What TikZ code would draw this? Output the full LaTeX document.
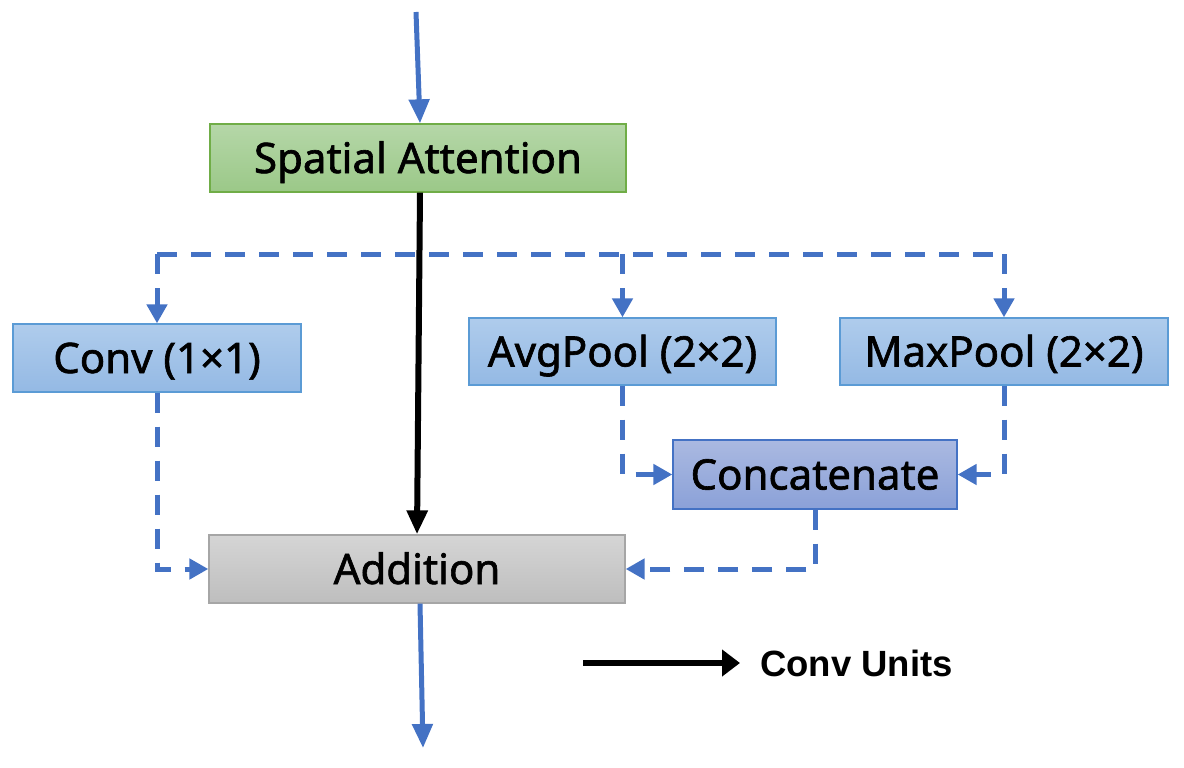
\documentclass[tikz,border=0pt]{standalone}
\usepackage{fontspec}
\setmainfont{Noto Sans}[FakeBold=1.5]
\newfontfamily\lgfont{Liberation Sans}
\usetikzlibrary{arrows.meta}
\definecolor{lineblue}{HTML}{4472C4}
\definecolor{gtop}{HTML}{B5D7A8}
\definecolor{gbot}{HTML}{9BC888}
\definecolor{gbrd}{HTML}{70AD47}
\definecolor{btop}{HTML}{AFCCEC}
\definecolor{bbot}{HTML}{94B9E4}
\definecolor{bbrd}{HTML}{5B9BD5}
\definecolor{ctop}{HTML}{AAB9E1}
\definecolor{cbot}{HTML}{8BA1D8}
\definecolor{cbrd}{HTML}{4472C4}
\definecolor{atop}{HTML}{D5D5D5}
\definecolor{abot}{HTML}{BEBEBE}
\definecolor{abrd}{HTML}{A6A6A6}
\tikzset{
  box/.style={inner sep=0pt, line width=1.3pt, text height=30pt, text depth=0pt,
    font=\fontsize{42}{50}\selectfont, align=center},
  greenbox/.style={box, draw=gbrd, top color=gtop, bottom color=gbot},
  bluebox/.style={box, draw=bbrd, top color=btop, bottom color=bbot},
  catbox/.style={box, draw=cbrd, top color=ctop, bottom color=cbot},
  graybox/.style={box, draw=abrd, top color=atop, bottom color=abot},
  flow/.style={draw=lineblue, line width=5pt, -{Triangle[length=24pt,width=20pt]}},
  dsh/.style={draw=lineblue, line width=5pt, dash pattern=on 20pt off 14pt},
  dsharr/.style={dsh, -{Triangle[length=19pt,width=20pt]}},
  convline/.style={draw=black, line width=6pt, -{Triangle[length=24pt,width=20pt]}},
}
\begin{document}
\begin{tikzpicture}[x=1pt,y=-1pt]
\useasboundingbox (0,0) rectangle (1184,768);
\node[greenbox, minimum width=416pt, minimum height=68pt] (sa) at (418,158) {Spatial Attention};
\node[bluebox, minimum width=288pt, minimum height=68pt] (conv) at (157,358) {Conv (1×1)};
\node[bluebox, minimum width=307pt, minimum height=67pt] (avg) at (622.5,351.5) {AvgPool (2×2)};
\node[bluebox, minimum width=328pt, minimum height=67pt] (max) at (1004,351.5) {MaxPool (2×2)};
\node[catbox, minimum width=284pt, minimum height=69pt] (cat) at (815,474.5) {Concatenate};
\node[graybox, minimum width=416pt, minimum height=68pt] (add) at (417,569) {Addition};

\coordinate (in) at (416,12);
\coordinate (out) at (423,748);
\coordinate (tl) at (157,254);
\coordinate (tr) at (1004,254);

% input and output
\draw[flow] (in) -- ([xshift=2pt]sa.north);
\draw[flow] ([xshift=3pt]add.south) -- (out);
% conv units line
\draw[convline] ([xshift=2pt]sa.south) -- (add.north);
% dashed branches
\draw[dsh] (tl) -- (tr);
\draw[dsharr] (tl) -- (conv.north);
\draw[dsharr] (avg.north |- tl) -- (avg.north);
\draw[dsharr] (tr) -- (max.north);
\draw[dsharr] (conv.south) |- (add.west);
\draw[dsharr] (avg.south) |- (cat.west);
\draw[dsharr] (max.south) |- (cat.east);
\draw[dsharr] (cat.south) |- (add.east);

% legend
\coordinate (lg1) at (583,663);
\node[anchor=west, inner sep=0pt, text height=26pt, text depth=0pt, font=\lgfont\bfseries\fontsize{36.5}{44}\selectfont] (lgt) at (760,663) {Conv Units};
\draw[draw=black, line width=6pt, -{Triangle[length=18pt,width=26pt]}] (lg1) -- (lgt.west -| 740,0);
\end{tikzpicture}
\end{document}
